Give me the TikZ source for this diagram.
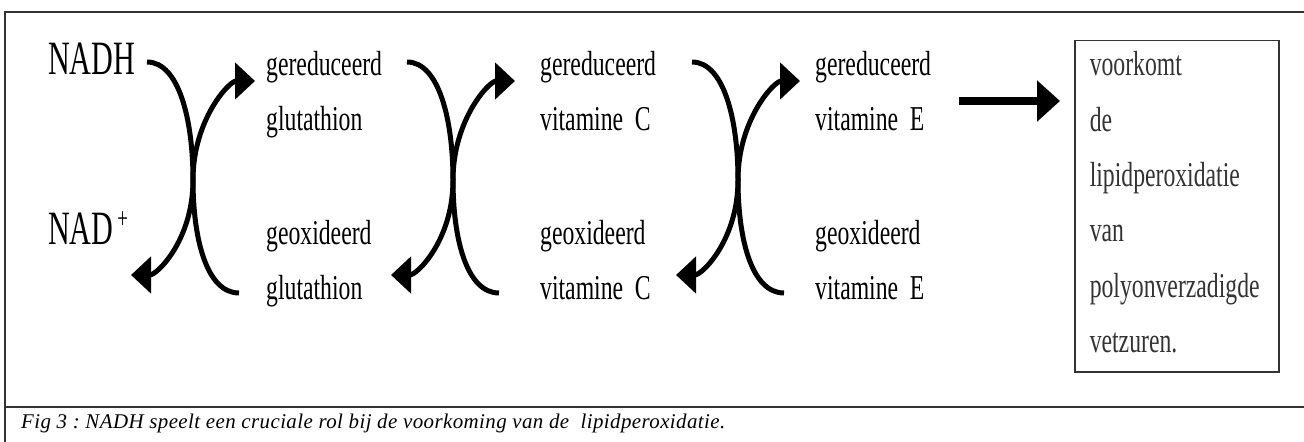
\documentclass[tikz,border=0pt]{standalone}
\usepackage{fontspec}
\setmainfont{Liberation Serif}
\newfontfamily\molfont[FakeStretch=0.63]{Liberation Serif}
\newfontfamily\labfont[FakeStretch=0.68]{Liberation Serif}
\newfontfamily\capfont[LetterSpace=2]{Liberation Serif}
\usetikzlibrary{arrows.meta}
\frenchspacing

\tikzset{
  species/.style={anchor=base west, inner sep=0pt, text width=150bp, align=left,
    font={\labfont\fontsize{35}{55}\selectfont\fontdimen2\font=5bp}},
  molecule/.style={anchor=base west, inner sep=0pt, font={\molfont\fontsize{48}{48}\selectfont}},
  redox/.style={line width=5bp, -{Triangle[length=20bp, width=36bp]}},
  push/.style={line width=8bp, -{Triangle[length=23bp, width=40bp]}},
  frame/.style={line width=1.5bp, black!80},
}

\begin{document}
\begin{tikzpicture}[x=1bp, y=-1bp]
            \useasboundingbox (0,0) rectangle (1304,442);
            \draw[frame] (1304,12) -- (5,12) -- (5,442);
            \draw[frame] (5,407) -- (1304,407);
            \node (nadh) [molecule] at (48,75) {NADH};
            \node (nad) [molecule] at (48,245) {NAD\hspace{4bp}\raisebox{16bp}{\fontsize{30}{30}\selectfont +}};
            \node (gsh) [species] at (266,76) {gereduceerd\\glutathion};
            \node (gssg) [species] at (266,245) {geoxideerd\\glutathion};
            \node (vitc) [species] at (540,76) {gereduceerd\\vitamine C};
            \node (vitcox) [species] at (540,245) {geoxideerd\\vitamine C};
            \node (vite) [species] at (815,76) {gereduceerd\\vitamine E};
            \node (viteox) [species] at (815,245) {geoxideerd\\vitamine E};
            \node (effect) [draw, frame, anchor=north west, inner xsep=15bp, inner ysep=0pt,
              minimum width=204bp, text width=174bp, text height=35bp, text depth=296bp,
              align=left, font={\labfont\fontsize{35}{55.6}\selectfont}] at (1074,40)
              {voorkomt\\de\\lipidperoxidatie\\van\\polyonverzadigde\\vetzuren.};
            \node (caption) [anchor=base west, inner sep=0pt, font={\capfont\itshape\fontsize{21}{21}\selectfont}] at (21,428)
              {Fig 3 : NADH speelt een cruciale rol bij de voorkoming van de~ lipidperoxidatie.};
            \coordinate (x1) at (193,180);
            \coordinate (x2) at (453,180);
            \coordinate (x3) at (738,180);
            \coordinate (nadh-out) at (147,62);
            \coordinate (nad-in) at (131,275);
            \coordinate (gssg-out) at (239,293);
            \coordinate (gsh-in) at (255,81);
            \coordinate (gsh-out) at (407,62);
            \coordinate (gssg-in) at (391,275);
            \coordinate (vitcox-out) at (499,293);
            \coordinate (vitc-in) at (515,81);
            \coordinate (vitc-out) at (692,62);
            \coordinate (vitcox-in) at (676,275);
            \coordinate (viteox-out) at (784,293);
            \coordinate (vite-in) at (800,81);
            \coordinate (push-out) at (959,101);
            \draw[redox] (nadh-out) .. controls +(32,0) and +(0,-60) .. (x1) .. controls +(0,60) and +(26,0) .. (nad-in);
            \draw[redox] (gssg-out) .. controls +(-32,0) and +(0,60) .. (x1) .. controls +(0,-60) and +(-26,0) .. (gsh-in);
            \draw[redox] (gsh-out) .. controls +(32,0) and +(0,-60) .. (x2) .. controls +(0,60) and +(26,0) .. (gssg-in);
            \draw[redox] (vitcox-out) .. controls +(-32,0) and +(0,60) .. (x2) .. controls +(0,-60) and +(-26,0) .. (vitc-in);
            \draw[redox] (vitc-out) .. controls +(32,0) and +(0,-60) .. (x3) .. controls +(0,60) and +(26,0) .. (vitcox-in);
            \draw[redox] (viteox-out) .. controls +(-32,0) and +(0,60) .. (x3) .. controls +(0,-60) and +(-26,0) .. (vite-in);
            \draw[push, shorten >=14bp] (push-out) -- (effect.west |- push-out);
        \end{tikzpicture}
\end{document}
